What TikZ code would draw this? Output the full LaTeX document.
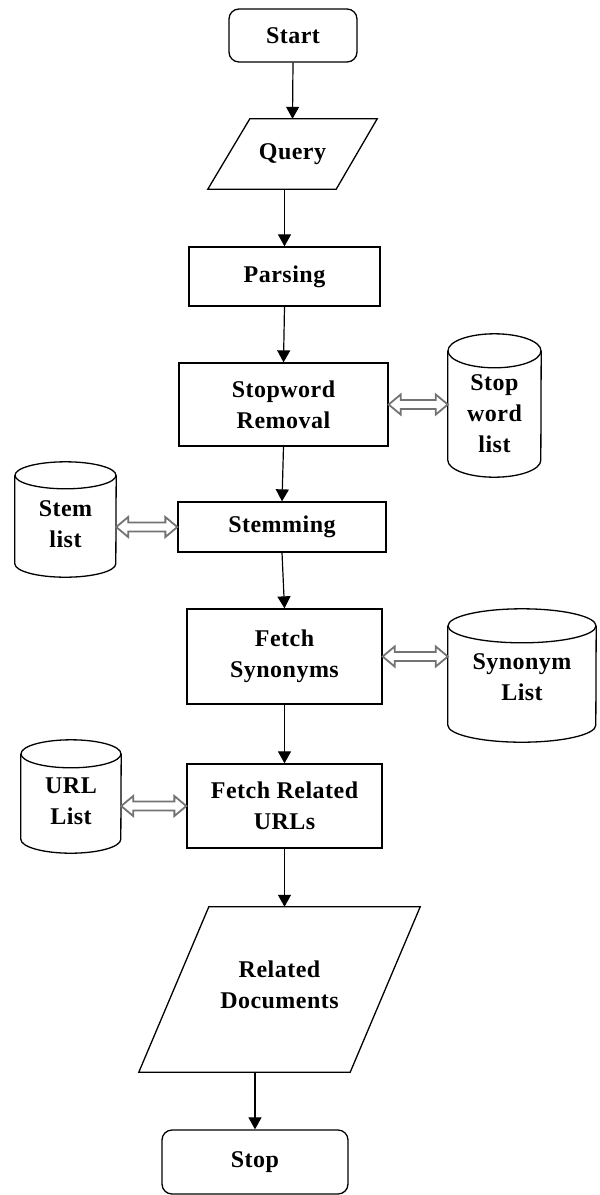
\documentclass[tikz,border=0pt]{standalone}
\usepackage{fontspec}
\setmainfont{Liberation Serif}[LetterSpace=2]
\usetikzlibrary{arrows.meta,calc}
\newcommand\mycyl[3]{%
  \draw[cylline] ($(#1.north west)+(0,#3)$) -- ($(#1.south west)+(0,-#3)$)
     arc[start angle=180,end angle=0,x radius=#2,y radius=#3] -- ($(#1.north east)+(0,#3)$);
  \draw[cylline] ($(#1.north)+(0,#3)$) ellipse[x radius=#2,y radius=#3];}
\newcommand\dblarr[2]{%
  \draw[dblline] (#1) -- ($(#1)+(12,-10)$) -- ($(#1)+(12,-4.5)$) -- ($(#2)+(-12,-4.5)$)
    -- ($(#2)+(-12,-10)$) -- (#2) -- ($(#2)+(-12,10)$) -- ($(#2)+(-12,4.5)$)
    -- ($(#1)+(12,4.5)$) -- ($(#1)+(12,10)$) -- cycle;}
\begin{document}
\begin{tikzpicture}[x=1pt,y=-1pt,
  every node/.style={font=\fontsize{24}{31}\selectfont\bfseries, align=center, inner sep=0pt},
  box/.style={draw, line width=1.3pt},
  rbox/.style={draw, line width=1.3pt, rounded corners=10pt},
  cylline/.style={line width=1.3pt},
  shapeline/.style={line width=1.3pt, line join=miter},
  flow/.style={line width=1.2pt, -{Triangle[width=13pt,length=12pt]}},
  dblline/.style={line width=1.8pt, draw=black!55, fill=white, line join=miter}]
\useasboundingbox (0,0) rectangle (600,1195);

% main flow
\node[rbox, minimum width=128pt, minimum height=53pt] (st) at (293,35.5) {Start};
\node[minimum width=169pt, minimum height=70pt] (q) at (292.5,154) {Query};
\draw[shapeline] ($(q.north west)+(42,0)$) -- (q.north east) -- ($(q.south east)+(-41,0)$) -- (q.south west) -- cycle;
\node[box, minimum width=191pt, minimum height=59pt] (pa) at (284.5,276.5) {Parsing};
\node[box, minimum width=209pt, minimum height=83pt] (sr) at (283.5,404.5) {Stopword\\Removal};
\node[box, minimum width=208pt, minimum height=50pt] (stm) at (282,527) {Stemming};
\node[box, minimum width=195pt, minimum height=95pt] (fs) at (284.5,656.5) {Fetch\\Synonyms};
\node[box, minimum width=195pt, minimum height=84pt] (fr) at (284.5,806) {Fetch Related\\URLs};
\node[minimum width=281pt, minimum height=165pt] (rd) at (279.5,989.5) {};
\draw[shapeline] ($(rd.north west)+(70,0)$) -- (rd.north east) -- ($(rd.south east)+(-70,0)$) -- (rd.south west) -- cycle;
\node (rdt) at (279.5,985) {Related\\Documents};
\node[rbox, minimum width=186pt, minimum height=64pt] (sp) at (255,1162) {Stop};

% cylinders
\node[minimum width=93pt, minimum height=143pt] (swl) at (494.5,405.5) {};
\mycyl{swl}{46.5}{17}
\node (swlt) at (494.5,414) {Stop\\word\\list};
\node[minimum width=101pt, minimum height=115pt] (sl) at (65.5,519.5) {};
\mycyl{sl}{50.5}{13.5}
\node (slt) at (65.5,524) {Stem\\list};
\node[minimum width=148pt, minimum height=133pt] (syn) at (522,675.5) {};
\mycyl{syn}{74}{17}
\node (synt) at (522,677) {Synonym\\List};
\node[minimum width=100pt, minimum height=113pt] (ul) at (71,796.5) {};
\mycyl{ul}{50}{14}
\node (ult) at (71,801) {URL\\List};

% flow arrows
\draw[flow] (st.south) -- (q.north);
\draw[flow] (q.south -| pa.north) -- (pa.north);
\draw[flow] (pa.south) -- (sr.north);
\draw[flow] (sr.south) -- (stm.north);
\draw[flow] (stm.south) -- (fs.north);
\draw[flow] (fs.south) -- (fr.north);
\draw[flow] (fr.south) -- (rd.north -| fr.south);
\draw[flow] (rd.south -| sp.north) -- (sp.north);

% double arrows
\dblarr{sr.east}{sr.east -| swl.west}
\dblarr{sl.east |- stm.west}{stm.west}
\dblarr{fs.east}{fs.east -| syn.west}
\dblarr{ul.east |- fr.west}{fr.west}
\end{tikzpicture}
\end{document}
